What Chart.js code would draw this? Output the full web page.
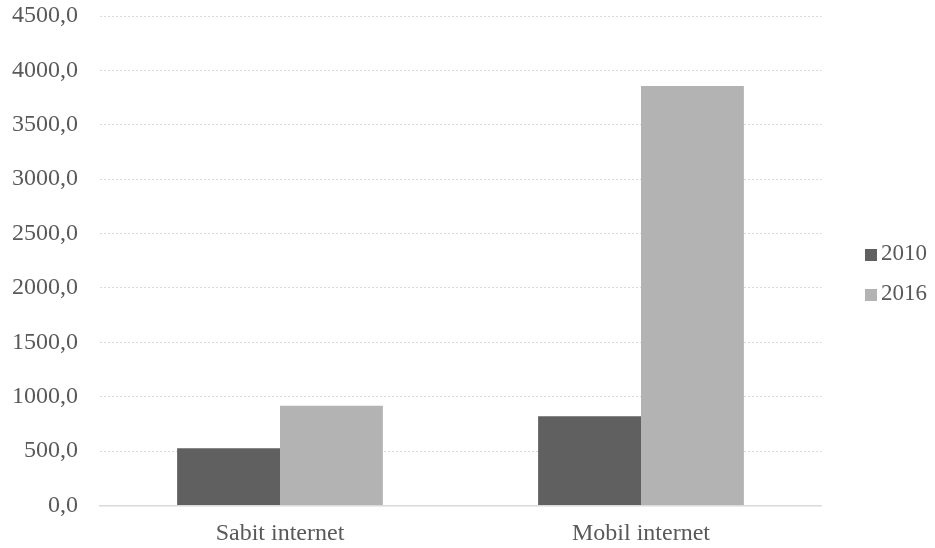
<!DOCTYPE html>
<html>
<head>
<meta charset="utf-8">
<script src="https://cdn.jsdelivr.net/npm/chart.js@4/dist/chart.umd.min.js"></script>
<style>
  html, body { margin: 0; padding: 0; background: #ffffff; }
  #wrap { width: 935px; height: 548px; position: relative; }
</style>
</head>
<body>
<div id="wrap"><canvas id="c"></canvas></div>
<script>
// Internet traffic by connection type
const categories = ['Sabit internet', 'Mobil internet'];
const seriesLabels = ['2010', '2016'];
const values2010 = [527, 821];
const values2016 = [916, 3857];
const yTicks = [0, 500, 1000, 1500, 2000, 2500, 3000, 3500, 4000, 4500];

const FONT = "'Liberation Serif', 'Times New Roman', serif";
const TEXT = '#595959';
const colors = ['#606060', '#b3b3b3'];

// Legend drawn at the right side, stacked vertically
const sideLegend = {
  id: 'sideLegend',
  afterDraw(chart) {
    const ctx = chart.ctx;
    ctx.save();
    ctx.font = '23px ' + FONT;
    ctx.textBaseline = 'middle';
    ctx.textAlign = 'left';
    const x = 865;
    const ys = [254, 294];
    chart.data.datasets.forEach((ds, i) => {
      const y = ys[i];
      ctx.fillStyle = ds.backgroundColor;
      ctx.fillRect(x, y - 5, 12, 12);
      ctx.fillStyle = TEXT;
      ctx.fillText(ds.label, x + 16, y);
    });
    ctx.restore();
  }
};

new Chart(document.getElementById('c'), {
  type: 'bar',
  data: {
    labels: categories,
    datasets: [
      { label: seriesLabels[0], data: values2010, backgroundColor: colors[0] },
      { label: seriesLabels[1], data: values2016, backgroundColor: colors[1] }
    ]
  },
  options: {
    responsive: true,
    maintainAspectRatio: false,
    animation: false,
    layout: { padding: { top: 16, right: 113.5, bottom: 0, left: 0 } },
    datasets: { bar: { categoryPercentage: 0.57, barPercentage: 1.0 } },
    plugins: { legend: { display: false }, tooltip: { enabled: false } },
    scales: {
      x: {
        afterFit(scale) { scale.height = 42.5; scale.paddingLeft = 0; scale.paddingRight = 0; },
        grid: { display: false },
        border: { display: true, color: '#d9d9d9', width: 1.5 },
        ticks: { color: TEXT, font: { family: FONT, size: 24 }, padding: 6 }
      },
      y: {
        min: 0,
        max: 4500,
        afterFit(scale) { scale.width = 99.5; scale.paddingTop = 0; scale.paddingBottom = 0; },
        afterBuildTicks(scale) { scale.ticks = yTicks.map(v => ({ value: v })); },
        border: { display: false, dash: [2, 2] },
        grid: {
          drawTicks: false,
          color: ctx => (ctx.tick && ctx.tick.value === 0) ? 'rgba(0,0,0,0)' : '#d9d9d9',
          lineWidth: 1
        },
        ticks: {
          color: TEXT,
          font: { family: FONT, size: 24 },
          padding: 21.5,
          callback: v => Number(v).toFixed(1).replace('.', ',')
        }
      }
    }
  },
  plugins: [sideLegend]
});
</script>
</body>
</html>
